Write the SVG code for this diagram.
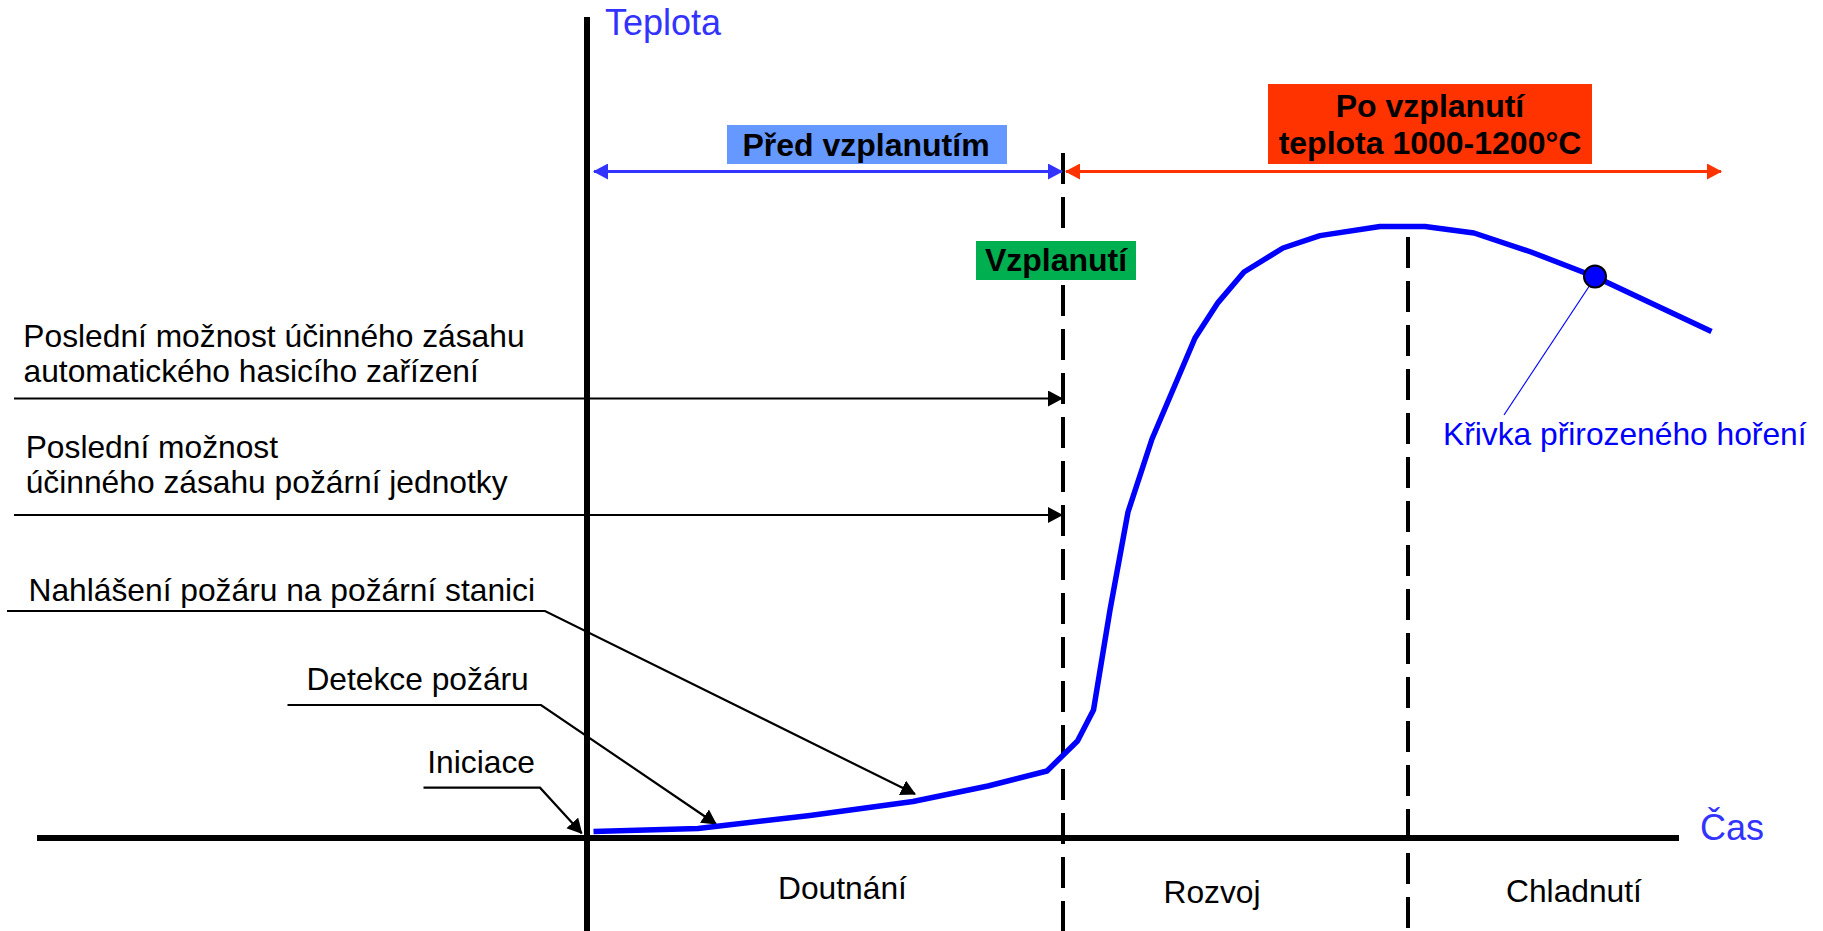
<svg xmlns="http://www.w3.org/2000/svg" width="1823" height="931" viewBox="0 0 1823 931">
<style>
.t{font-family:"Liberation Sans",Arial,sans-serif;font-size:31.75px;fill:#000}
.b{font-family:"Liberation Sans",Arial,sans-serif;font-size:32px;font-weight:bold;fill:#000;text-anchor:middle}
.ax{font-family:"Liberation Sans",Arial,sans-serif;font-size:36px;fill:#3333ff}
.ln{fill:none;stroke:#000;stroke-width:2.2}
.dash{fill:none;stroke:#000;stroke-width:4;stroke-dasharray:31 13}
</style>
<defs>
<marker id="mk" markerUnits="userSpaceOnUse" markerWidth="15" markerHeight="16" viewBox="0 0 15 16" refX="14" refY="8" orient="auto"><path d="M0,0 L15,8 L0,16 Z" fill="#000"/></marker>
<marker id="mb" markerUnits="userSpaceOnUse" markerWidth="15" markerHeight="16" viewBox="0 0 15 16" refX="14" refY="8" orient="auto-start-reverse"><path d="M0,0 L15,8 L0,16 Z" fill="#3333ff"/></marker>
<marker id="mr" markerUnits="userSpaceOnUse" markerWidth="15" markerHeight="16" viewBox="0 0 15 16" refX="14" refY="8" orient="auto-start-reverse"><path d="M0,0 L15,8 L0,16 Z" fill="#ff3300"/></marker>
</defs>
<rect width="1823" height="931" fill="#fff"/>

<g id="axes">
<line x1="587" y1="17" x2="587" y2="931" stroke="#000" stroke-width="6"/>
<line x1="37" y1="838" x2="1679" y2="838" stroke="#000" stroke-width="6"/>
<text class="ax" x="605" y="35">Teplota</text>
<text class="ax" x="1700" y="840">Čas</text>
</g>

<g id="phase-lines">
<line class="dash" x1="1063" y1="153" x2="1063" y2="931"/>
<line class="dash" x1="1408" y1="237" x2="1408" y2="931"/>
</g>

<g id="connectors">
<line x1="594" y1="171.5" x2="1062" y2="171.5" stroke="#3333ff" stroke-width="3" marker-start="url(#mb)" marker-end="url(#mb)"/>
<line x1="1066" y1="171.5" x2="1721" y2="171.5" stroke="#ff3300" stroke-width="3" marker-start="url(#mr)" marker-end="url(#mr)"/>
<path class="ln" d="M14,398.5 H1062" marker-end="url(#mk)"/>
<path class="ln" d="M14,515 H1062" marker-end="url(#mk)"/>
<path class="ln" d="M7,611 H545 L915,794" marker-end="url(#mk)"/>
<path class="ln" d="M287.5,705 H541 L716,824" marker-end="url(#mk)"/>
<path class="ln" d="M423.5,787.7 H540 L581.7,833.3" marker-end="url(#mk)"/>
<line x1="1590" y1="285" x2="1504" y2="415" stroke="#0000ff" stroke-width="1.2"/>
</g>

<g id="curve">
<polyline fill="none" stroke="#0000ff" stroke-width="5.5" stroke-linejoin="round" points="593.5,831.5 698,828.5 810,815.5 913,801.5 988,786 1047,771 1077.5,741 1093.5,710 1110,610 1128,512 1152,439 1195,338 1218,302.6 1244,272 1283,248 1320,235.6 1380,226.5 1425,226.5 1474,233 1531,252 1595,276.7 1711.5,331.5"/>
<circle cx="1595" cy="276.5" r="11" fill="#0000ff" stroke="#000" stroke-width="2"/>
</g>

<g id="label-pred">
<rect x="727" y="125" width="280" height="39" fill="#6699ff"/>
<text class="b" x="866" y="156">Před vzplanutím</text>
</g>

<g id="label-po">
<rect x="1268" y="84" width="324" height="80" fill="#ff3300"/>
<text class="b" x="1430" y="117">Po vzplanutí</text>
<text class="b" x="1430" y="154">teplota 1000-1200°C</text>
</g>

<g id="label-vzplanuti">
<rect x="976" y="241" width="160" height="39" fill="#00b050"/>
<text class="b" x="1056" y="271">Vzplanutí</text>
</g>

<g id="label-ahz">
<text class="t" x="23.3" y="347">Poslední možnost účinného zásahu</text>
<text class="t" x="23.5" y="382">automatického hasicího zařízení</text>
</g>

<g id="label-jednotka">
<text class="t" x="25.7" y="458">Poslední možnost</text>
<text class="t" x="25.7" y="493">účinného zásahu požární jednotky</text>
</g>

<g id="label-nahlaseni">
<text class="t" x="28.5" y="601">Nahlášení požáru na požární stanici</text>
</g>

<g id="label-detekce">
<text class="t" x="306.4" y="690">Detekce požáru</text>
</g>

<g id="label-iniciace">
<text class="t" x="427.3" y="773">Iniciace</text>
</g>

<g id="label-krivka">
<text class="t" x="1443" y="445" style="fill:#0000ff">Křivka přirozeného hoření</text>
</g>

<g id="phase-labels">
<text class="t" x="778" y="898.5">Doutnání</text>
<text class="t" x="1163.5" y="903">Rozvoj</text>
<text class="t" x="1506" y="901.5">Chladnutí</text>
</g>
</svg>
